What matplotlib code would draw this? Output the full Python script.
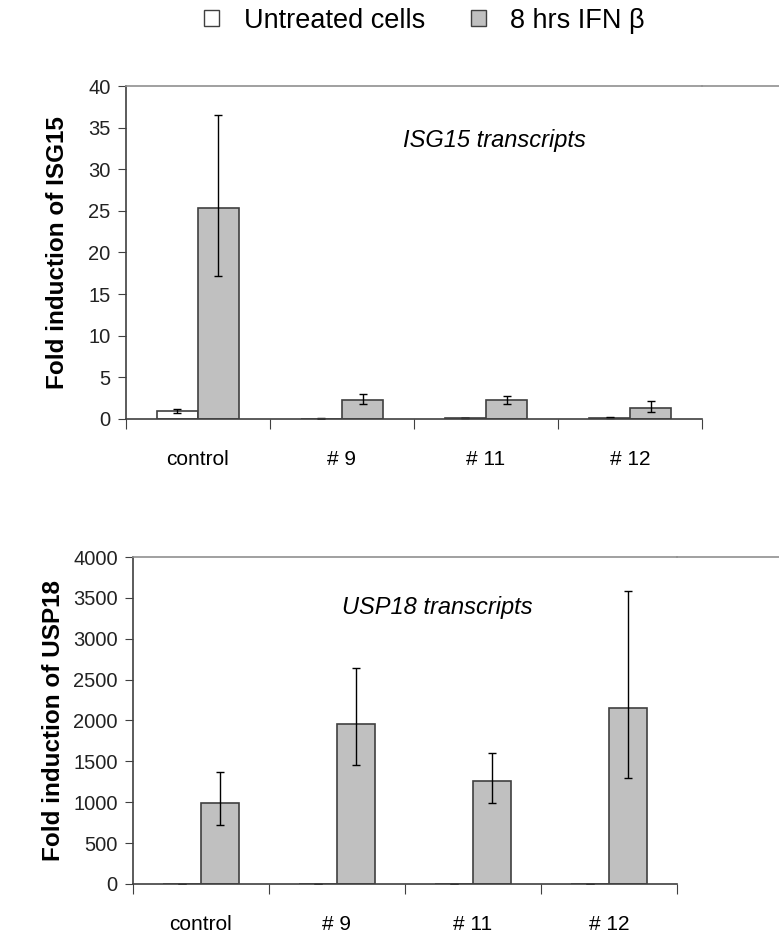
import numpy as np
import matplotlib
matplotlib.use("Agg")
import matplotlib.pyplot as plt
from matplotlib.lines import Line2D
from matplotlib.patches import Patch

plt.rcParams['font.family'] = ['Liberation Sans', 'DejaVu Sans']

groups = ['control', '# 9', '# 11', '# 12']

# ISG15 fold induction
isg_untreated = [1.0, 0.03, 0.12, 0.12]
isg_untreated_lo = [0.3, 0.02, 0.03, 0.05]
isg_untreated_hi = [0.25, 0.05, 0.03, 0.1]
isg_treated = [25.3, 2.3, 2.25, 1.35]
isg_treated_lo = [8.1, 0.55, 0.45, 0.55]
isg_treated_hi = [11.2, 0.7, 0.5, 0.85]

# USP18 fold induction
usp_untreated = [0, 0, 0, 0]
usp_treated = [990, 1960, 1255, 2150]
usp_treated_lo = [270, 510, 270, 850]
usp_treated_hi = [380, 680, 345, 1430]

gray = '#c0c0c0'
edge = '#404040'

fig = plt.figure(figsize=(7.79, 9.39), dpi=100)
ax1 = fig.add_axes([0.1617, 0.5538, 0.7395, 0.3546])
ax2 = fig.add_axes([0.1707, 0.0586, 0.6983, 0.3482])

x = np.arange(len(groups))


def draw(ax, w, unt, tre, unt_err, tre_err, ymax, ystep, ylabel, lpad, note, note_xy):
    ax.bar(x - w / 2, unt, w, color='white', edgecolor=edge, linewidth=1.2,
           yerr=unt_err, error_kw=dict(ecolor='black', elinewidth=1, capsize=3, capthick=1))
    ax.bar(x + w / 2, tre, w, color=gray, edgecolor=edge, linewidth=1.2,
           yerr=tre_err, error_kw=dict(ecolor='black', elinewidth=1, capsize=3, capthick=1))
    ax.set_xlim(-0.5, len(groups) - 0.5)
    ax.set_ylim(0, ymax)
    ax.set_yticks(np.arange(0, ymax + 1, ystep))
    ax.set_xticks(np.arange(-0.5, len(groups), 1.0))
    ax.set_xticklabels([])
    ax.set_xticks(x, minor=True)
    ax.set_xticklabels(groups, minor=True, fontsize=15)
    ax.tick_params(axis='x', which='minor', length=0, pad=22)
    ax.tick_params(axis='x', which='major', direction='out', length=7, color=edge)
    ax.tick_params(axis='y', direction='out', length=6, color=edge, labelsize=14.5, pad=5, labelcolor='#222222')
    for s in ['left', 'bottom']:
        ax.spines[s].set_color(edge)
        ax.spines[s].set_linewidth(1.2)
    ax.spines['right'].set_visible(False)
    ax.spines['top'].set_color('#909090')
    ax.spines['top'].set_linewidth(1.2)
    ax.set_ylabel(ylabel, fontsize=17.5, fontweight='bold', labelpad=lpad)
    ax.text(note_xy[0], note_xy[1], note, transform=ax.transAxes, fontsize=17,
            style='italic', ha='center', va='center')


draw(ax1, 0.285, isg_untreated, isg_treated,
     [isg_untreated_lo, isg_untreated_hi], [isg_treated_lo, isg_treated_hi],
     40, 5, 'Fold induction of ISG15', 14, 'ISG15 transcripts', (0.64, 0.835))
draw(ax2, 0.28, usp_untreated, usp_treated,
     [[0] * 4, [0] * 4], [usp_treated_lo, usp_treated_hi],
     4000, 500, 'Fold induction of USP18', 6, 'USP18 transcripts', (0.56, 0.845))

# top border line continues to the right edge of the picture
for ax in (ax1, ax2):
    bb = ax.get_position()
    fig.add_artist(Line2D([bb.x1, 1.0], [bb.y1, bb.y1], transform=fig.transFigure,
                          color='#909090', linewidth=1.2))

handles = [Patch(facecolor='white', edgecolor=edge), Patch(facecolor=gray, edgecolor=edge)]
fig.legend(handles, ['Untreated cells', '8 hrs IFN \u03b2'], loc='center',
           bbox_to_anchor=(0.545, 0.978), ncol=2, frameon=False, fontsize=19.5,
           handlelength=0.55, handleheight=0.55, handletextpad=0.9, columnspacing=1.7)

fig.savefig('out.png', dpi=100)
